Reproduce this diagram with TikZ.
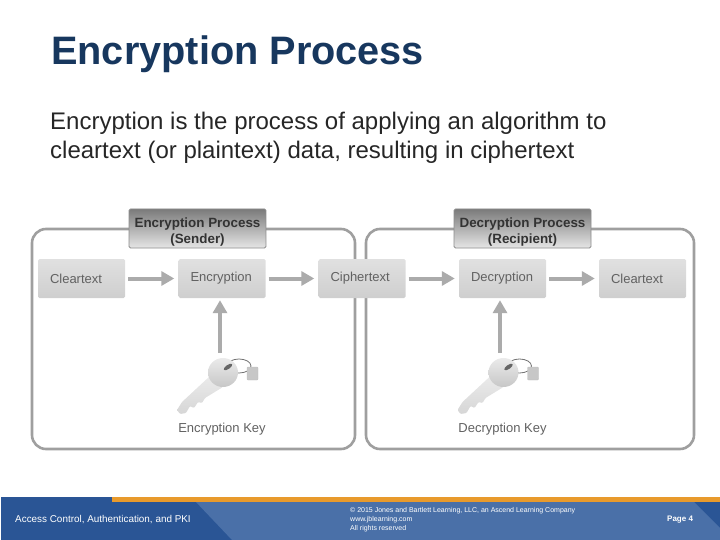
\documentclass[tikz,border=0pt]{standalone}
\usepackage{fontspec}
\setmainfont{Liberation Sans}
\usetikzlibrary{arrows.meta,calc}
\definecolor{titleblue}{HTML}{17375E}
\definecolor{framegray}{HTML}{9F9F9F}
\definecolor{arrowgray}{HTML}{ABABAB}
\definecolor{footdark}{HTML}{2A5595}
\definecolor{footlight}{HTML}{4A70A8}
\definecolor{footorange}{HTML}{E89A2C}
\tikzset{
  frame/.style={draw=framegray, line width=2.6pt, rounded corners=14pt},
  stepbox/.style={minimum height=39pt, inner xsep=12pt, inner ysep=0pt, text width=63pt, align=left, rounded corners=1.5pt,
    top color=black!12, bottom color=black!19, text=black!62, font=\fontsize{13}{14}\selectfont},
  headbox/.style={minimum width=137pt, minimum height=39pt, inner sep=0pt, rounded corners=1.5pt, draw=black!45, line width=.8pt,
    top color=black!52, bottom color=black!10, text=black!80, align=center,
    font=\fontsize{13.4}{16}\selectfont\bfseries},
  flow/.style={draw=arrowgray, line width=4pt, shorten <=3pt, shorten >=4pt,
    -{Triangle[length=13pt,width=14pt]}},
  keylabel/.style={text=black!62, font=\fontsize{13}{14}\selectfont},
  foot/.style={text=white, anchor=west, inner sep=0pt},
}
\begin{document}
\begin{tikzpicture}[x=1pt,y=-1pt]
  \useasboundingbox (0,0) rectangle (720,540);
  % heading and text
  \node[anchor=west, inner sep=0pt, text=titleblue, font=\fontsize{39.7}{44}\selectfont\bfseries] (title) at (51,54) {Encryption Process};
  \node[anchor=north west, inner sep=0pt, align=left, text=black!85, font=\fontsize{24}{29}\selectfont] (body) at (50,112)
    {Encryption is the process of applying an algorithm to\\cleartext (or plaintext) data, resulting in ciphertext};
  % frames
  \draw[frame] (32,229) rectangle (355,449);
  \draw[frame] (366,229) rectangle (694,449);
  \node[headbox] (sender) at (197.5,228.5) {\rule{0pt}{17pt}Encryption Process\\(Sender)};
  \node[headbox] (recipient) at (522.5,228.5) {\rule{0pt}{17pt}Decryption Process\\(Recipient)};
  % boxes
  \foreach \name/\xpos/\word in {clear/81.5/Cleartext,enc/222/Encryption,cipher/362/Ciphertext,dec/502.5/Decryption,plain/642.5/Cleartext}{
    \node[stepbox] (\name) at (\xpos,278.5) {\word};
  }
  \draw[flow] (clear) -- (enc);
  \draw[flow] (enc) -- (cipher);
  \draw[flow] (cipher) -- (dec);
  \draw[flow] (dec) -- (plain);
  % keys
  \foreach \name/\xpos/\word in {enckey/222/Encryption Key,deckey/502.5/Decryption Key}{
    \node[keylabel] (\name) at (\xpos,429.5) {\word};
    \begin{scope}[shift={(\xpos-222,0)}]
      \draw[black!55, line width=.8pt] (239,366) ellipse (12pt and 7pt);
      \draw[black!25, fill=black!22, rounded corners=1pt] (247,367) rectangle (258,380);
      \shade[top color=black!8, bottom color=black!16, rounded corners=1pt] (177,410) -- (182,402) -- (210,376) -- (223,387) -- (205,398) -- (202,403) -- (198,402) -- (194,408) -- (190,406) -- (186,413) -- (180,414) -- cycle;
      \shade[top color=black!8, bottom color=black!22] (223,372.5) ellipse (15pt and 14.5pt);
      \fill[black!60, rotate around={35:(228,367)}] (228,367) ellipse (5pt and 2pt);
    \end{scope}
  }
  \coordinate (enckeyup) at (220,353);
  \coordinate (deckeyup) at (500,353);
  \draw[flow, shorten <=0pt, shorten >=2pt] (enckeyup) -- (enckeyup |- enc.south);
  \draw[flow, shorten <=0pt, shorten >=2pt] (deckeyup) -- (deckeyup |- dec.south);
  % footer
  \fill[footdark] (1,497) rectangle (720,540);
  \fill[footlight] (195,501) -- (232,540) -- (720,540) -- (720,528) -- (693,501) -- cycle;
  \fill[footorange] (112,497) rectangle (720,501.5);
  \node[foot, font=\fontsize{9.9}{10}\selectfont] (topic) at (15,519.5) {Access Control, Authentication, and PKI};
  \node[foot, anchor=north west, align=left, font=\fontsize{7}{8.7}\selectfont] (rights) at (350,507.5)
    {© 2015 Jones and Bartlett Learning, LLC, an Ascend Learning Company\\www.jblearning.com\\All rights reserved};
  \node[foot, font=\fontsize{8}{9}\selectfont\bfseries] (page) at (667,520) {Page 4};
\end{tikzpicture}
\end{document}
